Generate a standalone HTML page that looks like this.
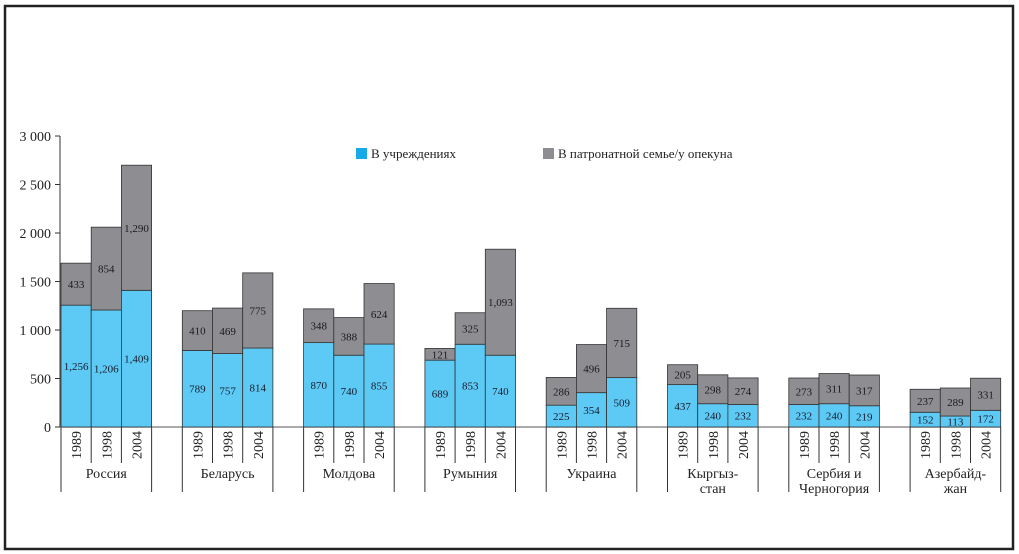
<!DOCTYPE html>
<html><head><meta charset="utf-8"><style>
html,body{margin:0;padding:0;background:#fff;width:1019px;height:554px;overflow:hidden}
svg{display:block}
text{font-family:"Liberation Serif","DejaVu Serif",serif}
</style></head><body>
<svg id="chart" width="1019" height="554" font-family="Liberation Serif, DejaVu Serif, serif">
<rect x="5" y="6" width="1008" height="543" fill="none" stroke="#222" stroke-width="2.5"/>
<g id="legend">
<g><rect x="356" y="148" width="11" height="11" fill="#17a9e8"/><text x="371" y="158" font-size="13" fill="#222" font-family="Liberation Serif, serif">В учреждениях</text></g>
<g><rect x="543" y="148" width="11" height="11" fill="#8e8e92"/><text x="558" y="158" font-size="13" fill="#222" font-family="Liberation Serif, serif">В патронатной семье/у опекуна</text></g>
</g>
</svg>
<script>
const countries=[["Россия"],["Беларусь"],["Молдова"],["Румыния"],["Украина"],["Кыргыз-","стан"],["Сербия и","Черногория"],["Азербайд-","жан"]];
const years=["1989","1998","2004"];
const institutions=[[1256,1206,1409],[789,757,814],[870,740,855],[689,853,740],[225,354,509],[437,240,232],[232,240,219],[152,113,172]];
const foster=[[433,854,1290],[410,469,775],[348,388,624],[121,325,1093],[286,496,715],[205,298,274],[273,311,317],[237,289,331]];
const instLabels=[["1,256","1,206","1,409"],["789","757","814"],["870","740","855"],["689","853","740"],["225","354","509"],["437","240","232"],["232","240","219"],["152","113","172"]];
const fosterLabels=[["433","854","1,290"],["410","469","775"],["348","388","624"],["121","325","1,093"],["286","496","715"],["205","298","274"],["273","311","317"],["237","289","331"]];
const yTicks=[0,500,1000,1500,2000,2500,3000];
const yTickLabels=["0","500","1 000","1 500","2 000","2 500","3 000"];

const NS="http://www.w3.org/2000/svg";
const svg=document.getElementById('chart');
const y0=427, yTop=136, yMax=3000;
const y=v=>y0-(v/yMax)*(y0-yTop);
const groupX=i=>61+i*121.3;
const barW=30.2;
const barX=(i,j)=>groupX(i)+j*barW;
const FF="Liberation Serif, DejaVu Serif, serif";
function el(tag,attrs,parent){const e=document.createElementNS(NS,tag);for(const k in attrs)e.setAttribute(k,attrs[k]);if(tag==='text')e.setAttribute('font-family',FF);(parent||svg).appendChild(e);return e;}

const axis=el('g',{});


el('line',{x1:60,y1:yTop,x2:60,y2:y0,stroke:'#333','stroke-width':1},axis);
yTicks.forEach((t,k)=>{
  el('line',{x1:55,y1:y(t),x2:60,y2:y(t),stroke:'#333','stroke-width':1},axis);
  const tx=el('text',{x:51,y:y(t)+5,'text-anchor':'end','font-size':14,fill:'#222'},axis);
  tx.textContent=yTickLabels[k];
  
  
});
const base=el('line',{x1:60,y1:y0,x2:1001,y2:y0,stroke:'#777','stroke-width':1.2});



countries.forEach((c,i)=>{
  const g=el('g',{});
  
  
  years.forEach((yr,j)=>{
    const x=barX(i,j);
    const a=institutions[i][j], b=foster[i][j];
    const r1=el('rect',{x:x,y:y(a),width:barW,height:y0-y(a),fill:'#5ccaf5',stroke:'#333','stroke-width':0.8},g);
    
    
    const r2=el('rect',{x:x,y:y(a+b),width:barW,height:y(a)-y(a+b),fill:'#8e8e92',stroke:'#333','stroke-width':0.8},g);
    
    
    const t1=el('text',{x:x+barW/2,y:y(a/2)+4,'text-anchor':'middle','font-size':11,fill:'#1a1a2a'},g);
    t1.textContent=instLabels[i][j];
    
    
    const t2=el('text',{x:x+barW/2,y:y(a+b/2)+4,'text-anchor':'middle','font-size':11,fill:'#1a1a1a'},g);
    t2.textContent=fosterLabels[i][j];
    
    
    const yt=el('text',{transform:`translate(${x+barW/2+5},${y0+4}) rotate(-90)`,'text-anchor':'end','font-size':14,fill:'#222'},g);
    yt.textContent=yr;
    
    
    if(j>0) el('line',{x1:x,y1:y0,x2:x,y2:y0+36,stroke:'#333','stroke-width':1},g);
  });
  const gx=groupX(i), gw=barW*3;
  el('line',{x1:gx,y1:y0,x2:gx,y2:492,stroke:'#333','stroke-width':1},g);
  el('line',{x1:gx+gw,y1:y0,x2:gx+gw,y2:492,stroke:'#333','stroke-width':1},g);
  c.forEach((line,k)=>{
    const t=el('text',{x:gx+gw/2,y:478+k*15,'text-anchor':'middle','font-size':14,fill:'#222'},g);
    t.textContent=line;
    
    
  });
});
</script>
</body></html>
